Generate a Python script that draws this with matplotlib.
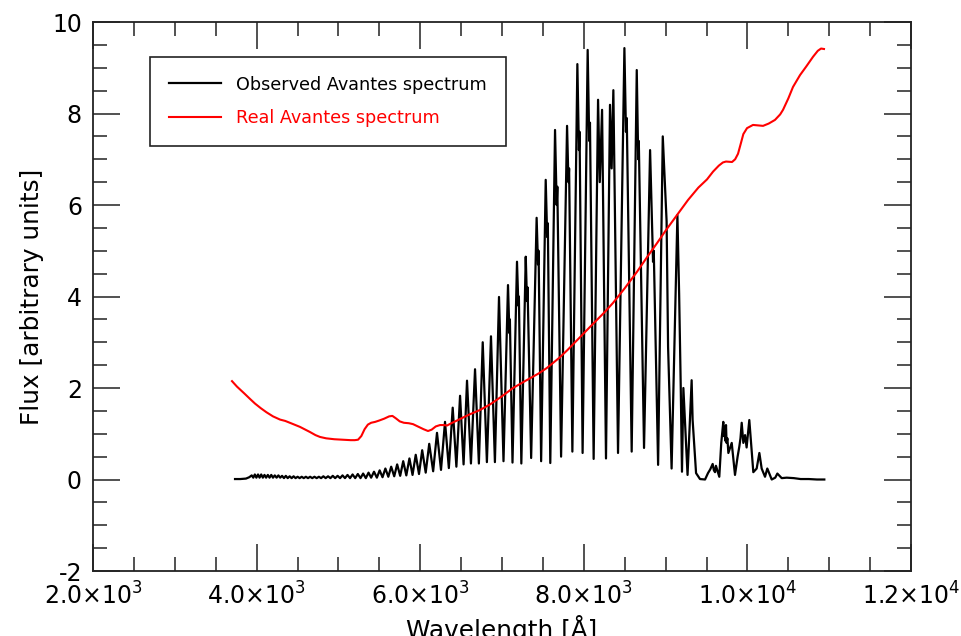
import matplotlib
matplotlib.use('Agg')
from matplotlib import pyplot as plt
from matplotlib.ticker import MultipleLocator, FuncFormatter
import numpy as np

# Observed spectrum (vertices): blue end ripple
blue_wl = [3736, 3800, 3870, 3910,
           3940, 3959, 3978, 3997, 4017, 4036, 4056, 4076, 4096, 4116,
           4137, 4158, 4179, 4200, 4222, 4244, 4266, 4288, 4311, 4334,
           4357, 4380, 4404, 4428, 4452, 4476, 4501, 4526, 4551, 4576,
           4602, 4628, 4654, 4680, 4707, 4734, 4761, 4788, 4816, 4844,
           4873, 4902, 4931, 4960, 4990, 5020, 5050, 5080, 5111, 5142,
           5173, 5205, 5237, 5270, 5302, 5335, 5368, 5400]
blue_flux = [0.01, 0.01, 0.02, 0.05,
             0.09, 0.04, 0.11, 0.04, 0.11, 0.04, 0.11, 0.04, 0.10, 0.04,
             0.10, 0.04, 0.10, 0.04, 0.09, 0.04, 0.09, 0.04, 0.08, 0.03,
             0.08, 0.03, 0.07, 0.03, 0.07, 0.03, 0.06, 0.03, 0.06, 0.03,
             0.06, 0.03, 0.06, 0.03, 0.06, 0.03, 0.06, 0.03, 0.07, 0.03,
             0.07, 0.03, 0.08, 0.03, 0.08, 0.03, 0.09, 0.03, 0.10, 0.03,
             0.11, 0.03, 0.12, 0.03, 0.13, 0.03, 0.15, 0.04]

# fringe region
fringe_wl = [5435, 5470, 5504, 5539, 5574, 5610, 5645, 5682, 5718, 5755,
             5792, 5830, 5868, 5906, 5945, 5985, 6024, 6067, 6110, 6158,
             6205, 6254, 6303, 6350, 6397, 6442, 6487, 6530, 6572, 6620,
             6670, 6717, 6764, 6815, 6865, 6913, 6963, 7018,
             7073, 7090, 7096, 7128, 7183, 7200, 7206, 7236,
             7290, 7305, 7312, 7356, 7423, 7440, 7447, 7478,
             7534, 7552, 7560, 7590, 7648, 7668, 7676, 7722,
             7795, 7812, 7820, 7860, 7921, 7940, 7948, 7985,
             8047, 8066, 8075, 8120, 8174, 8195, 8223, 8271,
             8320, 8340, 8361, 8418, 8496, 8515, 8525, 8585,
             8647, 8665, 8672, 8736, 8810, 8846, 8855, 8908,
             8965, 9012, 9030, 9073, 9144, 9165, 9185, 9200,
             9217, 9268, 9318, 9330, 9372, 9420]
fringe_flux = [0.17, 0.04, 0.20, 0.05, 0.24, 0.06, 0.28, 0.07, 0.33, 0.08,
               0.40, 0.09, 0.46, 0.10, 0.54, 0.12, 0.64, 0.15, 0.78, 0.18,
               1.02, 0.21, 1.26, 0.25, 1.57, 0.28, 1.83, 0.33, 2.16, 0.35,
               2.41, 0.35, 3.00, 0.38, 3.13, 0.38, 3.99, 0.40,
               4.25, 3.20, 3.50, 0.37, 4.76, 3.80, 4.00, 0.35,
               4.87, 3.90, 4.20, 0.47, 5.72, 4.70, 5.00, 0.40,
               6.55, 5.30, 5.60, 0.36, 7.64, 6.00, 6.40, 0.50,
               7.73, 6.50, 6.80, 0.61, 9.08, 7.20, 7.60, 0.58,
               9.39, 7.40, 7.80, 0.45, 8.30, 6.50, 8.08, 0.46,
               8.19, 6.80, 8.51, 0.58, 9.43, 7.60, 7.90, 0.61,
               8.95, 7.00, 7.40, 0.69, 7.20, 4.76, 5.00, 0.32,
               7.50, 5.64, 2.90, 0.24, 5.78, 4.07, 2.00, 0.17,
               2.00, 0.10, 2.17, 1.30, 0.14, 0.01]

# red tail
tail_wl = [9482, 9518, 9545, 9575, 9590, 9604, 9615, 9656, 9680, 9705,
           9712, 9720, 9728, 9738, 9745, 9755, 9767, 9808, 9848, 9880,
           9901, 9915, 9930, 9950, 9971, 9990, 10023, 10072, 10113, 10146,
           10174, 10215, 10243, 10297, 10340, 10366, 10419, 10480, 10567,
           10650, 10750, 10850, 10940]
tail_flux = [0.00, 0.14, 0.22, 0.34, 0.20, 0.16, 0.30, 0.06, 0.80, 1.26,
             0.95, 1.15, 0.85, 1.19, 0.80, 0.90, 0.58, 0.80, 0.10, 0.50,
             0.72, 0.90, 1.24, 0.80, 0.97, 0.70, 1.30, 0.16, 0.24, 0.58,
             0.24, 0.06, 0.24, 0.00, 0.04, 0.13, 0.03, 0.04, 0.03,
             0.01, 0.01, 0.00, 0.00]

# Real (response) spectrum
real_wl = [3699, 3760, 3850, 3920, 3980, 4050, 4120, 4200, 4286, 4350,
           4420, 4530, 4650, 4720, 4775, 4850, 4950, 5050, 5150, 5200,
           5240, 5280, 5320, 5360, 5400, 5450, 5500, 5560, 5620, 5660,
           5700, 5750, 5800, 5860, 5912, 5970, 6040, 6095, 6140, 6190,
           6242, 6290, 6328, 6380, 6450, 6530, 6600, 6731, 6853, 7000,
           7134, 7300, 7450, 7550, 7700, 7800, 7953, 8100, 8250, 8357,
           8500, 8650, 8773, 8900, 9000, 9139, 9274, 9400, 9506, 9580,
           9650, 9700, 9738, 9812, 9850, 9885, 9920, 9950, 9995, 10068,
           10130, 10191, 10260, 10337, 10400, 10435, 10500, 10557, 10643,
           10720, 10802, 10860, 10900, 10936]
real_flux = [2.15, 2.03, 1.88, 1.76, 1.66, 1.56, 1.47, 1.38, 1.31, 1.28,
             1.23, 1.15, 1.04, 0.97, 0.93, 0.90, 0.88, 0.87, 0.86, 0.86,
             0.87, 0.95, 1.10, 1.20, 1.24, 1.26, 1.29, 1.33, 1.38, 1.39,
             1.34, 1.27, 1.24, 1.23, 1.21, 1.16, 1.10, 1.06, 1.09, 1.16,
             1.19, 1.19, 1.18, 1.23, 1.29, 1.36, 1.42, 1.52, 1.64, 1.82,
             2.00, 2.17, 2.32, 2.44, 2.66, 2.83, 3.11, 3.38, 3.65, 3.86,
             4.18, 4.54, 4.86, 5.18, 5.44, 5.78, 6.11, 6.38, 6.56, 6.73,
             6.86, 6.93, 6.95, 6.94, 7.00, 7.12, 7.35, 7.55, 7.68, 7.75,
             7.74, 7.73, 7.78, 7.86, 7.98, 8.08, 8.33, 8.58, 8.84,
             9.03, 9.24, 9.37, 9.42, 9.41]

obs_wl = np.concatenate([blue_wl, fringe_wl, tail_wl])
obs_flux = np.concatenate([blue_flux, fringe_flux, tail_flux])

plt.rcParams['axes.unicode_minus'] = False

fig = plt.figure(figsize=(9.61, 6.36), dpi=100)
ax = fig.add_axes([0.0968, 0.1022, 0.8512, 0.8632])

ax.plot(obs_wl, obs_flux, color='black', lw=1.6, label='Observed Avantes spectrum')
ax.plot(real_wl, real_flux, color='red', lw=1.5, label='Real Avantes spectrum')

ax.set_xlim(2000, 12000)
ax.set_ylim(-2, 10)
ax.xaxis.set_major_locator(MultipleLocator(2000))
ax.xaxis.set_minor_locator(MultipleLocator(500))
ax.yaxis.set_major_locator(MultipleLocator(2))
ax.yaxis.set_minor_locator(MultipleLocator(0.5))


def sci(v, pos):
    if v <= 0:
        return ''
    e = int(np.floor(np.log10(v)))
    return '%.1f×10$^{%d}$' % (v / 10**e, e)


ax.xaxis.set_major_formatter(FuncFormatter(sci))
ax.tick_params(which='both', direction='in', top=True, right=True,
               width=1.1, color='#222222', labelsize=17, pad=8)
ax.tick_params(which='major', length=19.5)
ax.tick_params(which='minor', length=10)
for s in ax.spines.values():
    s.set_linewidth(1.3)
    s.set_color('#222222')

ax.set_xlabel('Wavelength [Å]', fontsize=17.8, labelpad=4)
ax.set_ylabel('Flux [arbitrary units]', fontsize=17.8, labelpad=6)

leg = ax.legend(loc='upper left', bbox_to_anchor=(0.0697, 0.936),
                borderaxespad=0, fontsize=12.7, fancybox=False,
                edgecolor='#222222', framealpha=1, handlelength=3.0,
                handletextpad=0.85, labelspacing=0.88, borderpad=1.05)
leg.get_frame().set_linewidth(1.2)
for txt, line in zip(leg.get_texts(), leg.get_lines()):
    txt.set_color(line.get_color())

fig.savefig('out.png', dpi=100)
